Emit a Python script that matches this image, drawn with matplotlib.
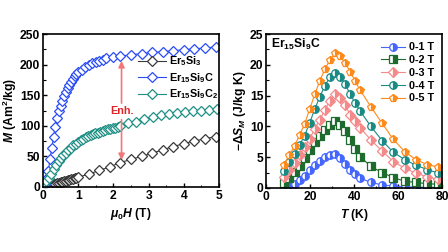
import matplotlib
matplotlib.use("Agg")
import matplotlib.pyplot as plt
from matplotlib.ticker import MultipleLocator

plt.rcParams['font.family'] = ['Liberation Sans', 'DejaVu Sans']
plt.rcParams['font.weight'] = 'bold'
plt.rcParams['mathtext.fontset'] = 'custom'
plt.rcParams['mathtext.rm'] = 'Liberation Sans:bold'
plt.rcParams['mathtext.it'] = 'Liberation Sans:italic:bold'
plt.rcParams['mathtext.bf'] = 'Liberation Sans:bold'
plt.rcParams['axes.linewidth'] = 1.2

# ---------------- Left panel data: M(H) ----------------
H_er5si3 = [0.0, 0.05, 0.1, 0.15, 0.2, 0.25, 0.3, 0.35, 0.4, 0.45, 0.5, 0.55, 0.6, 0.65, 0.7,
            0.75, 0.8, 0.85, 0.9, 0.95, 1.0, 1.3, 1.6, 1.9, 2.2, 2.5, 2.8, 3.1, 3.4, 3.7,
            4.0, 4.3, 4.6, 4.9]
M_er5si3 = [0.0, 0.6, 1.3, 2.0, 2.7, 3.5, 4.2, 5.0, 5.8, 6.6, 7.4, 8.2, 9.0, 9.8, 10.7,
            11.6, 12.5, 13.4, 14.3, 15.2, 16.1, 21, 27, 33, 40, 45, 50, 55, 61, 66,
            71, 75, 79, 82]

H_er15si9c = [0.0, 0.05, 0.1, 0.15, 0.2, 0.25, 0.3, 0.35, 0.4, 0.45, 0.5, 0.55, 0.6, 0.65,
              0.7, 0.75, 0.8, 0.85, 0.9, 0.95, 1.0, 1.1, 1.2, 1.3, 1.4, 1.5, 1.6, 1.7,
              1.8, 2.0, 2.2, 2.5, 2.8, 3.1, 3.4, 3.7, 4.0, 4.3, 4.6, 4.9]
M_er15si9c = [0, 5, 14, 26, 46, 64, 82, 98, 112, 124, 133, 141, 148, 155,
              161, 167, 172, 177, 181, 185, 188, 192, 196, 199, 202, 204, 206, 208,
              210, 212, 214, 216, 218, 220, 221, 223, 224, 226, 227, 229]

H_er15si9c2 = [0.02, 0.09, 0.16, 0.23, 0.30, 0.37, 0.44, 0.51, 0.58, 0.65, 0.72, 0.79, 0.86,
               0.93, 1.00, 1.07, 1.14, 1.21, 1.28, 1.35, 1.42, 1.49, 1.56, 1.63, 1.70, 1.77,
               1.84, 1.91, 1.98, 2.05, 2.12, 2.19, 2.42, 2.65, 2.88, 3.11, 3.34, 3.57, 3.80,
               4.03, 4.26, 4.49, 4.72, 4.95]
M_er15si9c2 = [6, 9, 15, 22, 29, 36, 42, 47, 52, 56, 60, 64, 68,
               71, 74, 77, 79, 81, 83, 85, 86, 88, 89, 90, 91, 93,
               94, 95, 96, 97, 98, 100, 104, 107, 111, 114, 117, 119, 121,
               122, 124, 125, 126, 128]

left_labels = ['Er$_5$Si$_3$', 'Er$_{15}$Si$_9$C', 'Er$_{15}$Si$_9$C$_2$']
left_colors = ['#3a3a3a', '#2a4cf5', '#1f8f86']

# ---------------- Right panel data: -dS_M(T) ----------------
T = [8.3, 10.6, 12.9, 15.2, 17.5, 19.8, 22.1, 24.4, 26.7, 29.0, 31.3, 33.6, 35.9, 38.2,
     40.5, 42.7, 47.6, 52.7, 57.8, 63.0, 68.1, 73.2, 78.3]
S_1T = [0.2, 0.3, 0.6, 1.3, 2.0, 2.9, 3.7, 4.4, 5.0, 5.4, 5.5, 4.9, 3.9, 2.9,
        2.2, 1.6, 0.9, 0.5, 0.3, 0.2, 0.15, 0.1, 0.1]
S_2T = [0.8, 1.7, 2.6, 3.6, 4.8, 6.1, 7.4, 8.5, 9.4, 10.3, 10.9, 10.2, 9.2, 7.8,
        6.4, 5.1, 3.5, 2.5, 1.7, 1.1, 0.9, 0.7, 0.6]
S_3T = [1.8, 3.0, 4.1, 5.3, 6.6, 8.0, 9.6, 11.1, 12.7, 14.2, 15.3, 14.6, 13.4, 11.9,
        10.9, 9.8, 7.8, 6.0, 4.3, 3.2, 2.4, 1.8, 1.4]
S_4T = [2.8, 4.3, 5.6, 7.0, 8.5, 10.6, 12.8, 14.8, 16.6, 18.0, 18.7, 18.1, 16.9, 15.2,
        13.8, 12.5, 10.0, 7.7, 5.8, 4.6, 3.7, 3.0, 2.4]
S_5T = [3.8, 5.4, 6.8, 8.6, 10.4, 12.8, 15.2, 17.4, 19.3, 20.8, 21.9, 21.4, 20.3, 18.9,
        17.3, 15.9, 13.2, 10.5, 7.9, 5.9, 4.6, 3.8, 3.4]
right_labels = ['0-1 T', '0-2 T', '0-3 T', '0-4 T', '0-5 T']
right_colors = ['#4466ff', '#1e6b2e', '#f58a8a', '#1a8a84', '#ff8a1c']
right_markers = ['o', 's', 'D', 'o', 'p']

fig = plt.figure(figsize=(4.48, 2.52), dpi=100)
ax1 = fig.add_axes([0.096, 0.258, 0.393, 0.607])
ax2 = fig.add_axes([0.594, 0.254, 0.393, 0.611])

fs = 8.7
lfs = 7.8
for H, M, lab, c in zip([H_er5si3, H_er15si9c, H_er15si9c2],
                        [M_er5si3, M_er15si9c, M_er15si9c2], left_labels, left_colors):
    ax1.plot(H, M, '-', color=c, lw=0.8, marker='D', ms=4.8, mfc='white', mec=c, mew=0.9,
             label=lab)

ax1.set_xlim(0, 5)
ax1.set_ylim(0, 250)
ax1.xaxis.set_major_locator(MultipleLocator(1))
ax1.xaxis.set_minor_locator(MultipleLocator(0.5))
ax1.yaxis.set_major_locator(MultipleLocator(50))
ax1.yaxis.set_minor_locator(MultipleLocator(25))
ax1.set_xlabel(r'$\mu_0H$ (T)', fontsize=fs, fontweight='bold', labelpad=3)
ax1.set_ylabel(r'$M$ (Am$^2$/kg)', fontsize=fs, fontweight='bold', labelpad=1)

# Enhancement arrows
arrow_c = '#f07878'
ax1.annotate('', xy=(2.23, 206), xytext=(2.23, 137),
             arrowprops=dict(arrowstyle='-|>', color=arrow_c, lw=1.2, mutation_scale=9,
                             shrinkA=0, shrinkB=0))
ax1.annotate('', xy=(2.23, 44), xytext=(2.23, 110),
             arrowprops=dict(arrowstyle='-|>', color=arrow_c, lw=1.2, mutation_scale=9,
                             shrinkA=0, shrinkB=0))
ax1.text(2.23, 124, 'Enh.', color='#e0252a', fontsize=lfs, fontweight='bold',
         ha='center', va='center')

leg1 = ax1.legend(loc='upper left', bbox_to_anchor=(0.54, 0.865), frameon=False,
                  fontsize=lfs, handlelength=2.6, labelspacing=0.25, handletextpad=0.3,
                  borderaxespad=0, borderpad=0)

for S, lab, c, m in zip([S_1T, S_2T, S_3T, S_4T, S_5T], right_labels, right_colors,
                        right_markers):
    ax2.plot(T, S, '-', color=c, lw=0.8, marker=m, ms=5.4, fillstyle='right',
             mfc=c, mfcalt='white', mec=c, mew=0.9, label=lab)

ax2.set_xlim(0, 80)
ax2.set_ylim(0, 25)
ax2.xaxis.set_major_locator(MultipleLocator(20))
ax2.xaxis.set_minor_locator(MultipleLocator(10))
ax2.yaxis.set_major_locator(MultipleLocator(5))
ax2.yaxis.set_minor_locator(MultipleLocator(2.5))
ax2.set_xlabel(r'$T$ (K)', fontsize=fs, fontweight='bold', labelpad=3)
ax2.set_ylabel(r'$-\Delta S_M$ (J/kg K)', fontsize=fs, fontweight='bold', labelpad=1)
ax2.text(0.03, 0.93, r'Er$_{15}$Si$_9$C', transform=ax2.transAxes, fontsize=8.7,
         fontweight='bold', ha='left', va='center')
leg2 = ax2.legend(loc='upper left', bbox_to_anchor=(0.65, 0.945), frameon=False,
                  fontsize=lfs, handlelength=2.3, labelspacing=0.25, handletextpad=0.3,
                  borderaxespad=0, borderpad=0)

for ax in (ax1, ax2):
    ax.tick_params(which='both', direction='in', top=False, right=False,
                   labelsize=fs, pad=2)
    ax.tick_params(which='major', length=3, width=1.0)
    ax.tick_params(which='minor', length=1.8, width=0.8)
    for lab in ax.get_xticklabels() + ax.get_yticklabels():
        lab.set_fontweight('bold')

fig.savefig('out.png', dpi=100)
